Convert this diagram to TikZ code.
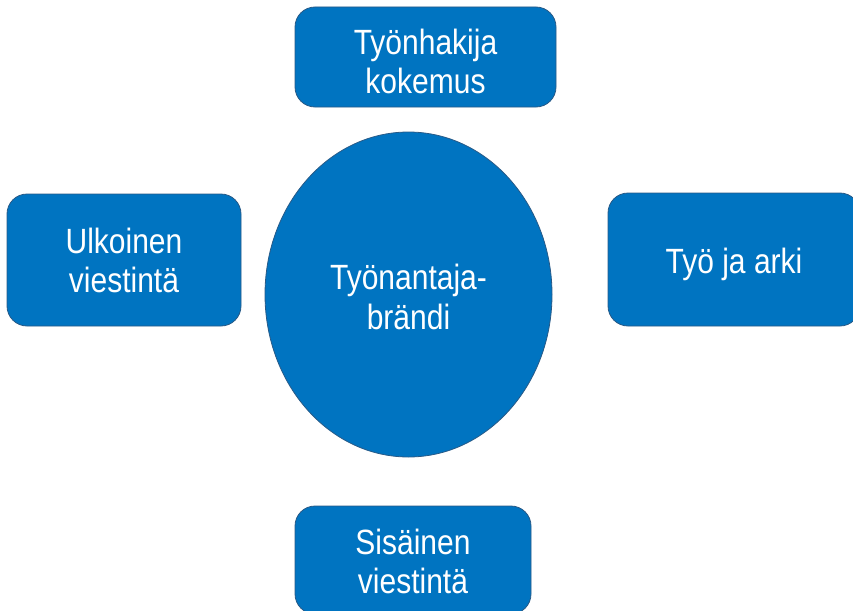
\documentclass[tikz,border=0pt]{standalone}
\usepackage{fontspec}
\setmainfont{Liberation Sans}
\usepackage{graphicx}
\definecolor{boxblue}{RGB}{0,116,193}
\definecolor{boxedge}{RGB}{40,90,135}
\newcommand{\vtxt}[2][6pt]{\raisebox{-#1}[\height][\depth]{\scalebox{1}[1.17]{\fontsize{30}{34}\selectfont\begin{tabular}{@{}c@{}}#2\end{tabular}}}}
\tikzset{
  card/.style={draw=boxedge, line width=0.8pt, fill=boxblue, rounded corners=20pt, text=white, inner sep=0pt},
  hub/.style={draw=boxedge, line width=0.8pt, fill=boxblue, ellipse, text=white, inner sep=0pt}
}
\usetikzlibrary{shapes.geometric}
\begin{document}
\begin{tikzpicture}[x=1pt,y=-1pt]
\useasboundingbox (0,0) rectangle (853,610);
\clip (0,0) rectangle (853,610);
\node[hub, minimum width=287pt, minimum height=325pt] (brand) at (408.5,294.5) {\vtxt[7pt]{Työnantaja-\\brändi}};
\node[card, minimum width=261pt, minimum height=100pt] (seeker) at (425.5,57) {\vtxt[9pt]{Työnhakija\\kokemus}};
\node[card, minimum width=234pt, minimum height=132pt] (ext) at (124,260) {\vtxt[5pt]{Ulkoinen\\viestintä}};
\node[card, minimum width=252pt, minimum height=133pt] (work) at (734,259.5) {\vtxt[6pt]{Työ ja arki}};
\node[card, minimum width=236pt, minimum height=108pt] (int) at (413,560) {\vtxt[6pt]{Sisäinen\\viestintä}};
\end{tikzpicture}
\end{document}
